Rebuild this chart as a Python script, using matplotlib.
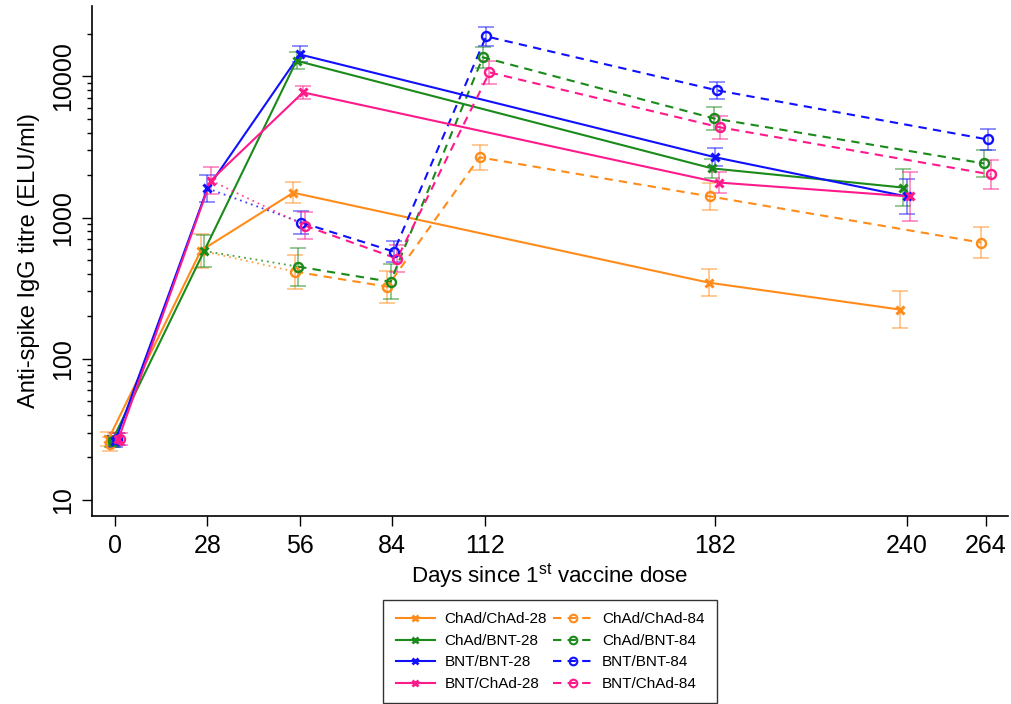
import numpy as np
import matplotlib
matplotlib.use("Agg")
import matplotlib.pyplot as plt
from matplotlib.lines import Line2D
from matplotlib.ticker import FixedLocator, NullFormatter

plt.rcParams["font.family"] = ["Liberation Sans", "DejaVu Sans"]
plt.rcParams["mathtext.default"] = "regular"

# sampling days
days28 = [0, 28, 56, 182, 240]
days84 = [0, 56, 84, 112, 182, 264]

# geometric mean titres (ELU/ml) and 95% CI fold-widths, one list per arm
chad_chad_28 = [27, 583, 1500, 346, 223]
chad_bnt_28 = [26, 580, 12900, 2230, 1630]
bnt_bnt_28 = [26, 1610, 14300, 2670, 1410]
bnt_chad_28 = [27, 1830, 7700, 1770, 1410]

chad_chad_28_ci = [1.12, 1.32, 1.19, 1.25, 1.35]
chad_bnt_28_ci = [1.10, 1.30, 1.15, 1.17, 1.36]
bnt_bnt_28_ci = [1.10, 1.24, 1.14, 1.16, 1.32]
bnt_chad_28_ci = [1.10, 1.24, 1.11, 1.19, 1.50]

chad_chad_84 = [25, 414, 324, 2670, 1410, 665]
chad_bnt_84 = [26, 449, 351, 13650, 5040, 2415]
bnt_bnt_84 = [27, 922, 574, 19200, 7960, 3575]
bnt_chad_84 = [27, 877, 512, 10670, 4350, 2020]

chad_chad_84_ci = [1.12, 1.32, 1.30, 1.22, 1.25, 1.29]
chad_bnt_84_ci = [1.10, 1.36, 1.33, 1.19, 1.20, 1.25]
bnt_bnt_84_ci = [1.10, 1.20, 1.18, 1.17, 1.15, 1.19]
bnt_chad_84_ci = [1.10, 1.25, 1.25, 1.20, 1.20, 1.27]

arms = ["ChAd/ChAd", "ChAd/BNT", "BNT/BNT", "BNT/ChAd"]
colors = ["#ff8c1a", "#1a8a1a", "#1010ff", "#ff1a8c"]
short_vals = [chad_chad_28, chad_bnt_28, bnt_bnt_28, bnt_chad_28]
short_ci = [chad_chad_28_ci, chad_bnt_28_ci, bnt_bnt_28_ci, bnt_chad_28_ci]
long_vals = [chad_chad_84, chad_bnt_84, bnt_bnt_84, bnt_chad_84]
long_ci = [chad_chad_84_ci, chad_bnt_84_ci, bnt_bnt_84_ci, bnt_chad_84_ci]

yticks = [10, 100, 1000, 10000]
minor_yticks = [m * 10 ** e for e in range(1, 4) for m in range(2, 10)] + [20000]
xticks = [0, 28, 56, 84, 112, 182, 240, 264]

fig = plt.figure(figsize=(10.11, 7.04), dpi=100)
ax = fig.add_axes([92 / 1011, 1 - 516 / 704, 916 / 1011, 510 / 704])


def draw_errs(ax, x, y, fold, color, marker):
    y = np.asarray(y, float)
    f = np.asarray(fold, float)
    ax.errorbar(x, y, yerr=[y - y / f, y * f - y], fmt="none", ecolor=color,
                alpha=0.55, elinewidth=1.2, capsize=6, capthick=1.2, zorder=2)
    if marker == "x":
        ax.plot(x, y, ls="none", marker="x", ms=6, mew=2.2, color=color, zorder=4)
    else:
        ax.plot(x, y, ls="none", marker="o", ms=6.5, mew=1.7, mfc="none",
                mec=color, zorder=4)


step = 0.5  # small horizontal shift per series so the bars don't overlap
for i, (arm, c) in enumerate(zip(arms, colors)):
    off28 = -2 + 2 * i * step
    off84 = off28 + step
    x28 = np.array(days28) + off28
    x84 = np.array(days84) + off84

    ax.plot(x28, short_vals[i], color=c, lw=1.5, zorder=3)
    draw_errs(ax, x28, short_vals[i], short_ci[i], c, "x")

    # second dose at day 84: dotted link from the shared day-28 sample
    ax.plot([x28[1], x84[1]], [short_vals[i][1], long_vals[i][1]], color=c,
            lw=1.3, ls=(0, (1, 2.2)), alpha=0.8, zorder=3)
    ax.plot(x84[1:], long_vals[i][1:], color=c, lw=1.5, ls=(0, (4, 3)), zorder=3)
    draw_errs(ax, x84, long_vals[i], long_ci[i], c, "o")

ax.set_yscale("log")
ax.set_ylim(7.7, 31500)
ax.set_xlim(-7, 270.7)
ax.yaxis.set_major_locator(FixedLocator(yticks))
ax.yaxis.set_minor_locator(FixedLocator(minor_yticks))
ax.yaxis.set_minor_formatter(NullFormatter())
ax.set_yticklabels([str(v) for v in yticks], rotation=90, va="center")
ax.set_xticks(xticks)
ax.set_xticklabels([str(v) for v in xticks])

ax.tick_params(axis="both", which="major", labelsize=18, width=1, length=7)
ax.tick_params(axis="y", which="minor", width=1, length=3.6)
ax.tick_params(axis="x", pad=6)
ax.tick_params(axis="y", pad=5)
for s in ("top", "right"):
    ax.spines[s].set_visible(False)
for s in ("left", "bottom"):
    ax.spines[s].set_linewidth(1.2)

ax.set_xlabel("Days since 1$^{st}$ vaccine dose", fontsize=16, labelpad=2)
ax.set_ylabel("Anti-spike IgG titre (ELU/ml)", fontsize=17, labelpad=8)

handles = []
labels = []
for arm, c in zip(arms, colors):
    handles.append(Line2D([], [], color=c, lw=1.5, marker="x", ms=5, mew=2))
    labels.append(f"{arm}-28")
for arm, c in zip(arms, colors):
    handles.append(Line2D([], [], color=c, lw=1.5, ls=(0, (4, 3)), marker="o",
                          ms=5.5, mew=1.5, mfc="none"))
    labels.append(f"{arm}-84")

leg = fig.legend(handles, labels, ncol=2, loc="upper center",
                 bbox_to_anchor=(550 / 1011, 1 - 600 / 704), fontsize=11,
                 frameon=True, fancybox=False, edgecolor="black",
                 handlelength=2.6, columnspacing=0.4, labelspacing=0.5,
                 borderpad=0.8, borderaxespad=0, numpoints=1,
                 handletextpad=0.6)
leg.get_frame().set_linewidth(1.0)

fig.savefig("out.png", dpi=100)
